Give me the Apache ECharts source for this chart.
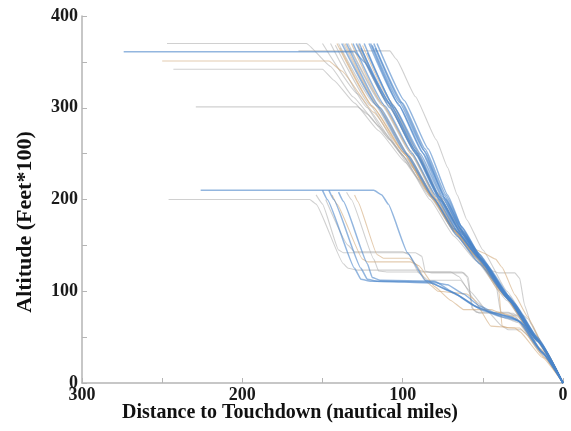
<!DOCTYPE html>
<html>
<head>
<meta charset="utf-8">
<script src="https://cdn.jsdelivr.net/npm/echarts@6/dist/echarts.min.js"></script>
<style>html,body{margin:0;padding:0;background:#fff}#c{width:571px;height:431px}</style>
</head>
<body>
<div id="c"></div>
<script>
// Tick labels
const xTicks = [300, 200, 100, 0];
const yTicks = [0, 100, 200, 300, 400];
const xTitle = 'Distance to Touchdown (nautical miles)';
const yTitle = 'Altitude (Feet*100)';

// Trajectories: [distance to touchdown (nm), altitude (ft*100)]
const grayTracks = [
  [[247,370],[160,370],[145,345],[131,312],[115,280],[98,245],[82,205],[68,166],[54,138],[36,95],[17,49],[0,0]],
  [[243,342],[150,342],[143,330],[130,305],[115,275],[98,240],[82,203],[68,165],[54,137],[36,95],[17,49],[0,0]],
  [[229,301],[128,301],[122,293],[108,265],[92,232],[79,200],[66,163],[53,135],[35,93],[17,48],[0,0]],
  [[165,362],[108,362],[104,353],[92,312],[79,265],[72,235],[66,205],[60,178],[50,145],[35,100],[17,52],[0,0]],
  [[140,370],[118,305],[99,252],[82,205],[68,165],[55,138],[37,97],[18,51],[0,0]],
  [[145,370],[122,300],[101,250],[83,203],[69,168],[56,140],[38,99],[19,52],[0,0]],
  [[133,365],[113,303],[95,250],[79,200],[66,162],[53,135],[35,93],[17,48],[0,0]],
  [[150,370],[128,315],[108,265],[90,222],[76,190],[65,160],[50,128],[33,90],[16,46],[0,0]],
  [[128,370],[110,308],[93,255],[78,206],[65,168],[52,137],[34,93],[16,48],[0,0]],
  [[142,368],[120,302],[100,248],[83,200],[68,160],[54,133],[35,90],[17,46],[0,0]],
  [[134,370],[113,305],[95,253],[80,206],[67,168],[54,140],[44,122],[40,120],[30,120],[27,114],[24,85],[20,65],[10,32],[0,0]],
  [[137,370],[115,300],[97,248],[81,200],[67,162],[53,132],[42,110],[39,78],[36,74],[25,74],[22,70],[11,35],[0,0]],
  [[246,200],[158,200],[154,195],[137,130],[134,125],[128,123],[90,123],[86,121],[63,121],[60,116],[56,80],[52,76],[31,76],[28,72],[14,37],[0,0]],
  [[154,205],[150,195],[140,145],[137,142],[92,142],[88,138],[86,122],[82,120],[62,120],[59,115],[57,82],[54,77],[34,77],[30,73],[15,38],[0,0]],
  [[135,208],[132,200],[118,135],[115,122],[110,121],[70,121],[65,116],[55,90],[48,80],[38,62],[34,58],[26,58],[22,52],[11,27],[0,0]],
  [[148,200],[134,150],[130,143],[100,143],[96,140],[90,120],[84,112],[64,112],[58,100],[47,78],[35,70],[28,66],[14,33],[0,0]]
];
const tanTracks = [
  [[250,351],[146,351],[138,340],[118,295],[100,252],[83,205],[68,166],[53,136],[35,93],[17,48],[0,0]],
  [[136,370],[116,304],[97,250],[81,203],[67,165],[53,136],[36,94],[17,49],[0,0]],
  [[132,370],[112,302],[94,248],[79,201],[66,165],[52,136],[34,92],[16,47],[0,0]],
  [[139,365],[118,300],[98,248],[82,202],[68,167],[55,140],[37,96],[18,50],[0,0]],
  [[125,368],[108,308],[92,256],[78,207],[66,170],[54,143],[36,97],[17,50],[0,0]],
  [[128,368],[109,303],[92,250],[77,203],[65,170],[54,145],[50,142],[42,135],[38,126],[30,96],[22,72],[11,36],[0,0]],
  [[141,370],[119,302],[99,250],[82,203],[67,165],[54,138],[40,100],[38,62],[34,60],[27,60],[24,55],[12,28],[0,0]],
  [[144,205],[141,195],[125,135],[122,132],[95,132],[90,128],[80,105],[70,90],[62,80],[45,80],[40,77],[30,72],[15,38],[0,0]],
  [[130,205],[128,198],[116,140],[112,136],[96,136],[92,130],[85,110],[78,100],[60,97],[56,92],[45,62],[30,60],[27,56],[13,28],[0,0]]
];
const blueTracks = [
  [[274,361],[130,361],[124,350],[108,305],[92,253],[77,203],[64,165],[51,135],[34,92],[16,47],[0,0]],
  [[118,370],[100,305],[86,255],[73,205],[63,170],[52,140],[34,95],[16,50],[0,0]],
  [[121,370],[103,305],[88,252],[75,203],[64,168],[51,136],[33,92],[16,48],[0,0]],
  [[116,370],[99,308],[84,255],[72,205],[62,165],[50,133],[32,90],[15,46],[0,0]],
  [[124,370],[106,303],[90,250],[76,200],[63,162],[50,132],[33,90],[16,47],[0,0]],
  [[127,370],[108,300],[91,248],[77,200],[65,163],[52,135],[35,93],[17,48],[0,0]],
  [[119,368],[102,306],[87,254],[74,202],[62,163],[49,130],[32,88],[15,45],[0,0]],
  [[131,370],[111,302],[94,250],[79,203],[66,165],[53,137],[35,94],[17,49],[0,0]],
  [[122,360],[105,300],[89,250],[75,201],[63,165],[51,134],[34,92],[16,47],[0,0]],
  [[135,370],[114,300],[96,247],[80,200],[66,160],[52,130],[33,89],[16,46],[0,0]],
  [[117,365],[101,306],[86,252],[74,205],[64,172],[53,142],[36,98],[17,50],[0,0]],
  [[126,365],[107,302],[91,250],[76,198],[62,158],[49,128],[31,86],[14,43],[0,0]],
  [[129,370],[109,305],[93,253],[78,204],[65,166],[51,135],[34,91],[16,46],[0,0]],
  [[120,370],[102,302],[87,250],[73,200],[61,160],[48,130],[30,86],[14,44],[0,0]],
  [[138,370],[116,302],[98,250],[81,202],[68,168],[54,140],[36,96],[18,52],[0,0]],
  [[226,210],[118,210],[113,205],[109,195],[97,142],[86,112],[82,110],[72,107],[62,97],[52,84],[42,76],[32,72],[26,66],[13,34],[0,0]],
  [[150,210],[147,200],[130,125],[126,113],[120,111],[84,110],[70,100],[55,84],[45,77],[33,72],[27,67],[13,33],[0,0]],
  [[146,210],[143,200],[126,125],[122,113],[116,111],[82,109],[68,98],[53,82],[40,74],[30,70],[25,64],[12,31],[0,0]],
  [[140,208],[137,198],[122,130],[119,115],[114,112],[80,111],[66,96],[50,79],[38,72],[28,68],[14,35],[0,0]]
];

const serif = '"Liberation Serif", "Times New Roman", serif';
function mk(tracks, color, op, w) {
  return tracks.map(t => ({
    type: 'line', data: t, showSymbol: false, silent: true,
    smooth: 0.12, smoothMonotone: 'x',
    lineStyle: { color: color, width: w, opacity: op }, z: 2
  }));
}
const series = [].concat(
  mk(grayTracks, '#a9a9a9', 0.55, 1.1),
  mk(tanTracks, '#d2aa7c', 0.6, 1.1),
  mk(blueTracks, '#4b86c9', 0.6, 1.5)
);

const axisGray = '#b5b5b5';
const chart = echarts.init(document.getElementById('c'), null, { renderer: 'canvas' });
chart.setOption({
  animation: false,
  backgroundColor: '#fff',
  grid: { left: 82, right: 8, top: 16, bottom: 48, containLabel: false },
  xAxis: {
    type: 'value', inverse: true, min: 0, max: 300, interval: 50, position: 'bottom',
    axisLine: { show: true, onZero: false, lineStyle: { color: axisGray, width: 1.5 } },
    axisTick: { show: true, inside: true, length: 5, lineStyle: { color: axisGray } },
    splitLine: { show: false },
    axisLabel: {
      margin: 3, fontFamily: serif, fontWeight: 'bold', fontSize: 18, color: '#1a1a1a',
      formatter: v => (xTicks.indexOf(v) >= 0 ? String(v) : '')
    }
  },
  yAxis: {
    type: 'value', min: 0, max: 400, interval: 50, position: 'left',
    axisLine: { show: true, onZero: false, lineStyle: { color: axisGray, width: 1.5 } },
    axisTick: { show: true, inside: true, length: 5, lineStyle: { color: axisGray } },
    splitLine: { show: false },
    axisLabel: {
      margin: 4, fontFamily: serif, fontWeight: 'bold', fontSize: 18, color: '#1a1a1a',
      formatter: v => (yTicks.indexOf(v) >= 0 ? String(v) : '')
    }
  },
  graphic: [
    { type: 'text', x: 290, y: 413, silent: true,
      style: { text: xTitle, font: 'bold 20px ' + serif, fill: '#111', align: 'center', verticalAlign: 'middle' } },
    { type: 'text', x: 25, y: 222, rotation: Math.PI / 2, silent: true,
      style: { text: yTitle, font: 'bold 22px ' + serif, fill: '#111', align: 'center', verticalAlign: 'middle' } }
  ],
  series: series
});
</script>
</body>
</html>
